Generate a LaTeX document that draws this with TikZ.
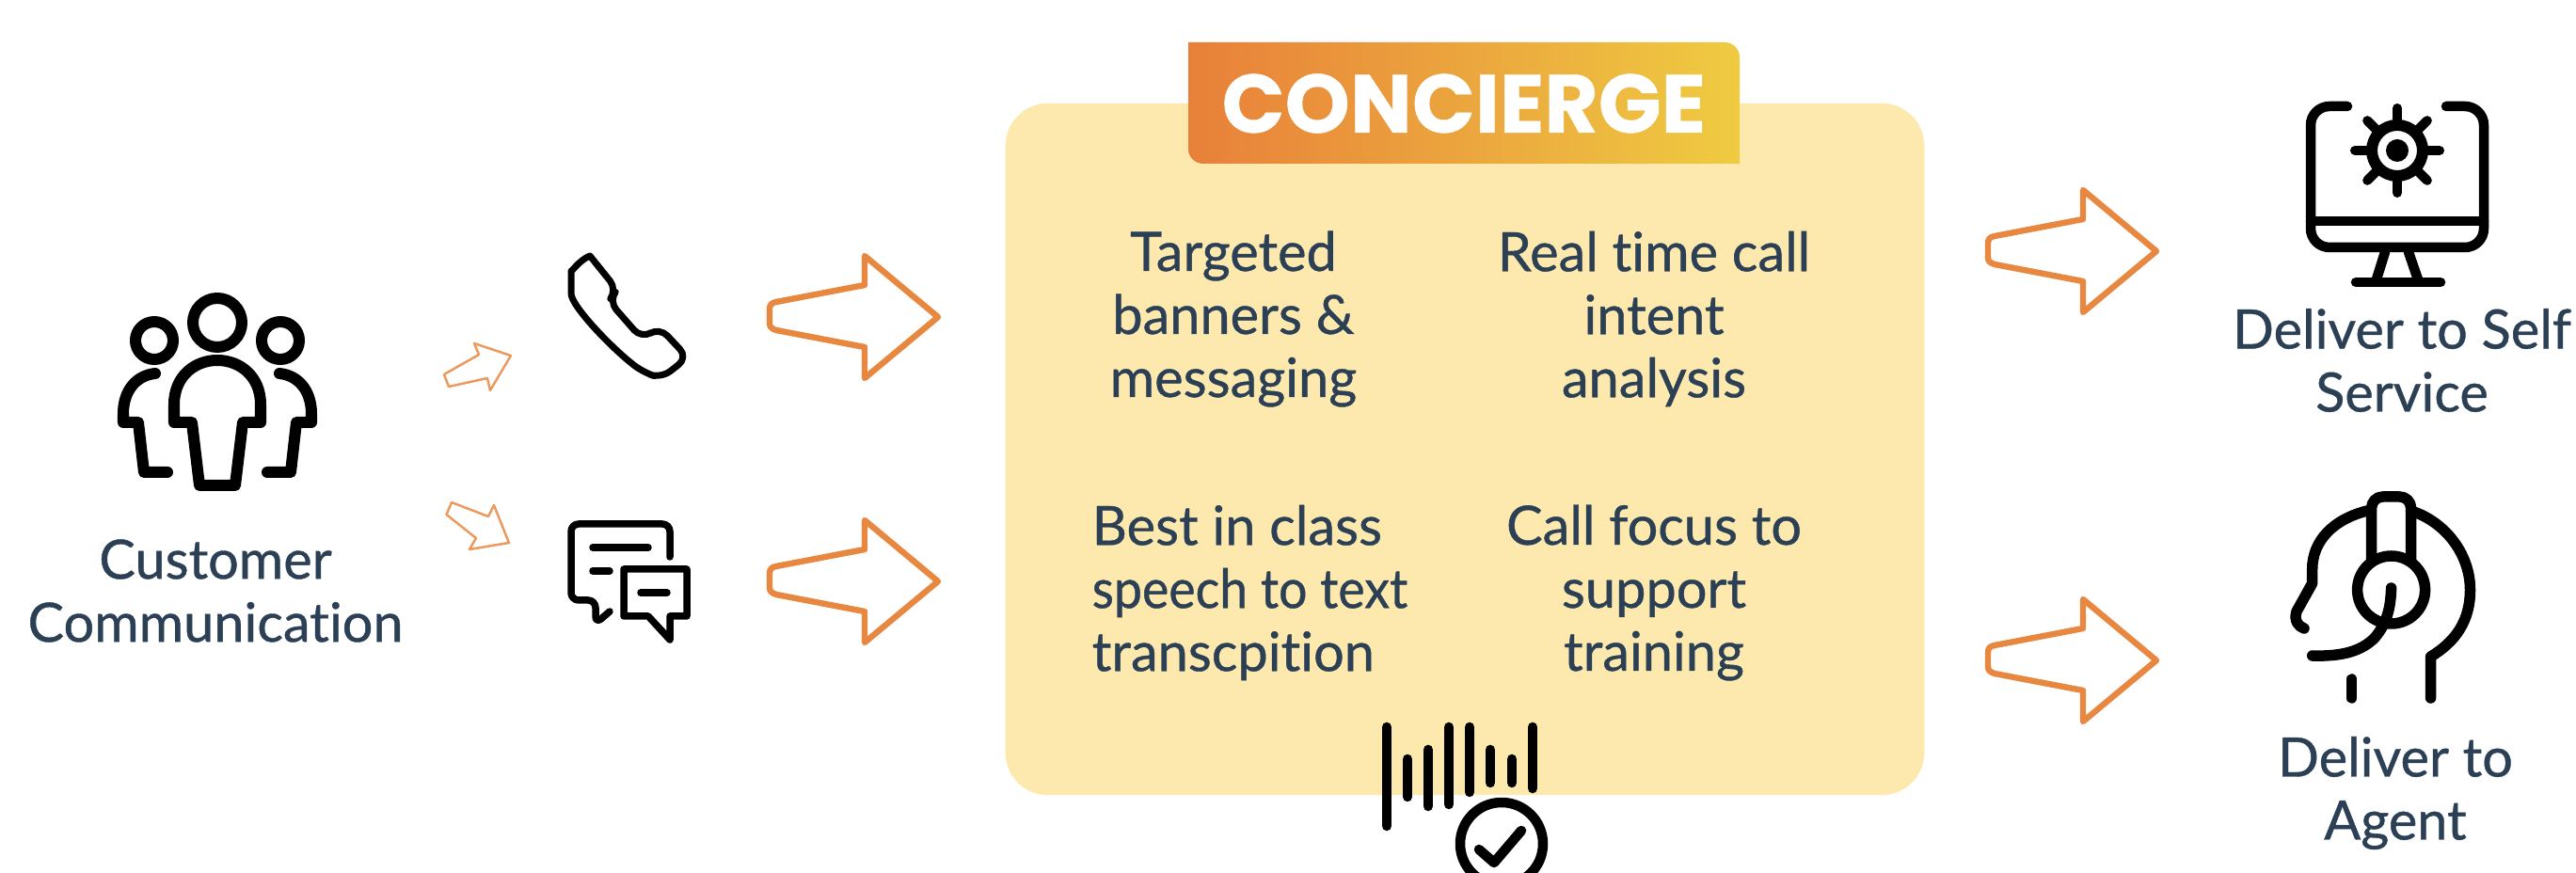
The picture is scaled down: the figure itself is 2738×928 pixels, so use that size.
\documentclass[tikz,border=0pt]{standalone}
\usepackage{fontspec}
\setmainfont[Ligatures=NoCommon,FakeBold=0.7]{Lato}
\newfontfamily\popf[BoldFont={* Bold},BoldFeatures={FakeBold=0.5}]{Poppins}
\usetikzlibrary{calc}
\definecolor{boxfill}{HTML}{FDE9AE}
\definecolor{orng}{HTML}{E8873F}
\definecolor{orngL}{HTML}{E8803A}
\definecolor{orngR}{HTML}{EFCB41}
\definecolor{ink}{HTML}{2B3F55}
\tikzset{
  x=0.01cm,y=-0.01cm,
  lbl/.style={text=ink,align=center,inner sep=0pt,font=\fontsize{16.4}{19.05}\selectfont},
  ico/.style={draw=black,line cap=round,line join=round,fill=none},
  bigarrow/.style={draw=orng,line width=2mm*0.32,line join=round,fill=none},
  smallarrow/.style={draw=orng!85,line width=0.7pt,line join=round,fill=none},
  pics/blockarrow/.style={code={
    \draw[bigarrow] (-172,-16) -- (-78,-34) -- (-78,-65) -- (0,0) -- (-78,65) -- (-78,32) -- (-172,14) .. controls (-178,12) and (-179,10) .. (-179,6) -- (-179,-8) .. controls (-179,-12) and (-178,-15) .. cycle;
  }}
}
\begin{document}
\begin{tikzpicture}
\useasboundingbox (0,0) rectangle (2738,928);
\fill[white] (0,0) rectangle (2738,928);
% main panel
\node[fill=boxfill,rounded corners=0.45cm,minimum width=9.76cm,minimum height=7.35cm,inner sep=0pt] (panel) at (1557,477.5) {};
% banner
\shade[left color=orngL,right color=orngR] (1263,45) -- (1833,45) .. controls (1842,45) and (1849,52) .. (1849,61) -- (1849,174) -- (1279,174) .. controls (1270,174) and (1263,167) .. (1263,158) -- cycle;
\node[text=white,inner sep=0pt,font=\popf\bfseries\fontsize{25}{26}\selectfont] (title) at (1556,110) {CONCIERGE};
% panel labels
\node[lbl] (t1) at (1311,339) {Targeted\\banners \&\\messaging};
\node[lbl] (t2) at (1758,339) {Real time call\\intent\\analysis};
\node[lbl,align=left,anchor=west] (t3) at (1160,630) {Best in class\\\scalebox{0.93}[1]{speech to text}\\transcpition};
\node[lbl] (t4) at (1758,630) {Call focus to\\support\\training};
% side labels
\node[lbl] (cc) at (229,628) {Customer\\Communication};
\node[lbl] (self) at (2553,383) {Deliver to Self\\Service};
\node[lbl] (agent) at (2546,843) {Deliver to\\Agent};
% big arrows
\pic at (997,337) {blockarrow};
\pic at (997,618) {blockarrow};
\pic at (2292,267) {blockarrow};
\pic at (2292,702) {blockarrow};
% small arrows
\draw[smallarrow] (543,378) -- (504,365) -- (509,377) -- (472,398) -- (477,411) -- (518,402) -- (521,415) -- cycle;
\draw[smallarrow] (541,577) -- (525,537) -- (519,549) -- (480,534) -- (474.5,547) -- (506,572) -- (499,584) -- cycle;
% people icon
\begin{scope}[ico,line width=0.12cm]
\draw (231,343) circle[radius=26];
\draw (164,362) circle[radius=20];
\draw (298,362) circle[radius=20];
\draw (185,449) -- (204,449) -- (212,516) -- (250,516) -- (258,449) -- (277,449) -- (277,430) .. controls (277,400) and (255,383) .. (231,383) .. controls (207,383) and (185,400) .. (185,430) -- cycle;
\draw (165,397) .. controls (145,399) and (131,415) .. (131,440) -- (131,449) -- (147,449) -- (153,502) -- (178,502);
\draw (297,397) .. controls (317,399) and (331,415) .. (331,440) -- (331,449) -- (315,449) -- (309,502) -- (284,502);
\end{scope}
% phone icon
\draw[ico,line width=0.07cm,rounded corners=0.12cm] (627,272) -- (656,308) -- (647,320) -- (682,360) -- (701,348) -- (731,380) -- (703,402) -- (684,396) .. controls (650,370) and (607,325) .. (607,300) .. controls (607,290) and (615,277) .. (627,272);
% chat icon
\begin{scope}[ico,line width=0.075cm]
\draw[rounded corners=0.08cm] (712,592) -- (712,557) -- (607,557) -- (607,638) -- (633,638) -- (633,663) -- (648,650);
\draw (630,582) -- (689,582);
\draw (630,607) -- (648,607);
\draw (663,605) -- (730,605) -- (730,655) -- (712,655) -- (712,680) -- (689,655) -- (663,655) -- cycle;
\draw (681,630) -- (709,630);
\end{scope}
% monitor icon
\begin{scope}[ico,line width=0.105cm]
\draw[rounded corners=0.2cm] (2495,113) -- (2456,113) -- (2456,263) -- (2640,263) -- (2640,113) -- (2600,113);
\draw (2456,235) -- (2640,235);
\draw (2535,268) -- (2525,300);
\draw (2560,268) -- (2571,300);
\draw (2504,300) -- (2594,300);
\draw[line width=0.12cm] (2548,160) circle[radius=27];
\fill (2548,160) circle[radius=12];
\foreach \a in {0,45,...,315}{
  \draw[line width=0.1cm] (2548,160) ++(\a:30) -- ++(\a:15);
}
\end{scope}
% headset icon
\begin{scope}[ico,line width=0.115cm]
\draw[rounded corners=0.12cm] (2520.6,597) -- (2520.6,528) -- (2562.6,528) -- (2562.6,597);
\draw (2541.6,627) circle[radius=36];
\draw (2562.6,543) .. controls (2600,555) and (2625.5,590) .. (2625.5,627) .. controls (2625.5,660) and (2610,682) .. (2583.6,698) -- (2583.6,742);
\draw (2516,543) .. controls (2480,552) and (2457.7,575) .. (2457.7,605) -- (2457.7,620) -- (2441,650) .. controls (2438,660) and (2443,666) .. (2449,668);
\draw (2541.6,625) .. controls (2541,650) and (2535,665) .. (2524,678) .. controls (2510,692) and (2490,698) .. (2457.7,697);
\draw (2499.6,722) -- (2499.6,742);
\end{scope}
% waveform icon
\begin{scope}[ico,line width=0.105cm]
\draw (1474,773) -- (1474,878);
\draw (1496,807) -- (1496,847);
\draw (1518,797) -- (1518,857);
\draw (1540,773) -- (1540,855);
\draw (1562,773) -- (1562,842);
\draw (1584,797) -- (1584,832);
\draw (1607,807) -- (1607,832);
\draw (1629,773) -- (1629,838);
\draw (1596,897) circle[radius=44];
\draw (1572,903) -- (1588,917) -- (1617,883);
\end{scope}
\end{tikzpicture}
\end{document}
